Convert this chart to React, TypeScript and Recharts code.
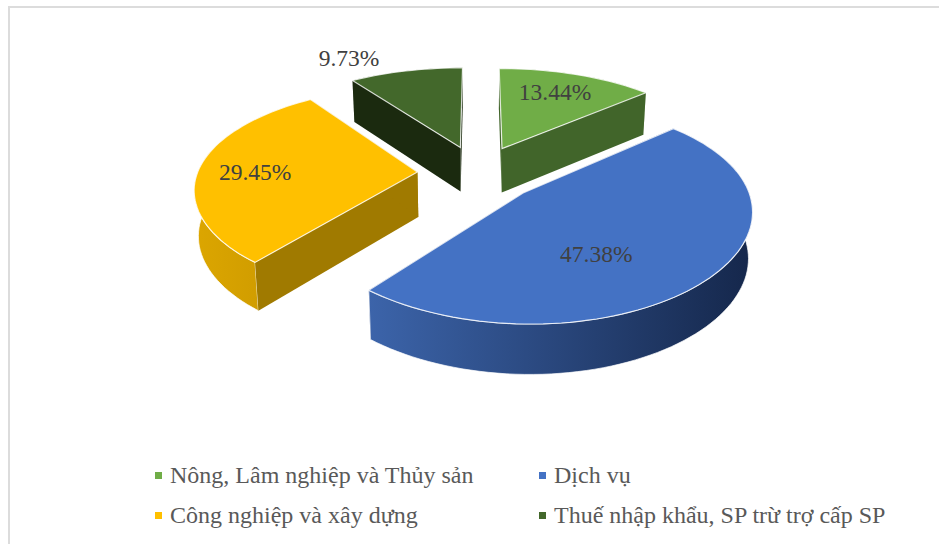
import { PieChart, Pie, Legend } from 'recharts';

const NAMES = [
  'Nông, Lâm nghiệp và Thủy sản',
  'Dịch vụ',
  'Công nghiệp và xây dựng',
  'Thuế nhập khẩu, SP trừ trợ cấp SP',
];
const SHARES = [13.44, 47.38, 29.45, 9.73];

const TOP_COLORS = ['#70ad47', '#4472c4', '#ffc000', '#43682b'];
const CUT_COLORS = ['#41652a', '#2a4478', '#a07a00', '#1b2a0f'];
const WALL_LEFT = ['#41652a', '#3c64aa', '#dca600', '#1b2a0f'];
const WALL_RIGHT = ['#41652a', '#15274b', '#c89600', '#1b2a0f'];

// hand-tuned nudges from the middle of each slice top
const LABEL_NUDGE = [
  [6, -10],
  [-34, 13],
  [-31, 2],
  [-77, -41],
];

const WIDTH = 939;
const HEIGHT = 544;
const CX = 478;
const CY = 173;
const RADIUS = 220;

// fake 3D: the pie plane is tilted and slightly in perspective
const TILT = 0.46;
const PERSPECTIVE_X = 0.14;
const PERSPECTIVE_Y = 0.17;
const EXPLODE = 0.276;
const DEPTH = 45;
const BOTTOM_SHRINK = 0.985;

const rad = (deg: number) => (deg * Math.PI) / 180;

// clockwise from the top, unit radius, shifted out along the slice's middle
function planePoint(r: number, theta: number, mid: number) {
  const X = r * Math.sin(rad(theta)) + EXPLODE * Math.sin(rad(mid));
  const Y = r * Math.cos(rad(theta)) + EXPLODE * Math.cos(rad(mid));
  const s = 1 / (1 + PERSPECTIVE_Y * Y);
  return { x: X / (1 + PERSPECTIVE_X * Y), y: -Y * TILT * s, s };
}

function top(cx: number, cy: number, R: number, r: number, theta: number, mid: number) {
  const p = planePoint(r, theta, mid);
  return { x: cx + p.x * R, y: cy + p.y * R, s: p.s };
}

function bottom(p: { x: number; y: number; s: number }, cx: number) {
  return { x: cx + (p.x - cx) * BOTTOM_SHRINK, y: p.y + DEPTH * Math.sqrt(p.s) };
}

const toPath = (pts: { x: number; y: number }[]) =>
  'M' + pts.map((p) => `${p.x.toFixed(1)},${p.y.toFixed(1)}`).join('L') + 'Z';

function Slice3D(props: any) {
  const { cx, cy, outerRadius, startAngle, endAngle, fill, name } = props;
  const i = NAMES.indexOf(name);
  const from = 90 - startAngle;
  const to = 90 - endAngle;
  const mid = (from + to) / 2;

  const arc = [];
  const steps = Math.max(8, Math.ceil((to - from) / 2));
  for (let k = 0; k <= steps; k++) {
    arc.push(top(cx, cy, outerRadius, 1, from + ((to - from) * k) / steps, mid));
  }
  const apex = top(cx, cy, outerRadius, 0, from, mid);
  const apexLow = bottom(apex, cx);
  const arcLow = arc.map((p) => bottom(p, cx));
  const first = arc[0];
  const last = arc[arc.length - 1];
  const xs = arc.map((p) => p.x);
  const gradId = `wall-${i}`;

  const cuts = (
    <>
      <path d={toPath([apex, first, bottom(first, cx), apexLow])} fill={CUT_COLORS[i]} />
      <path d={toPath([apex, last, bottom(last, cx), apexLow])} fill={CUT_COLORS[i]} />
    </>
  );
  // slices on the near side show their rim in front of the cut faces
  const nearSide = Math.cos(rad(mid)) < 0;

  return (
    <g>
      <defs>
        <linearGradient
          id={gradId}
          gradientUnits="userSpaceOnUse"
          x1={Math.min(...xs)}
          x2={Math.max(...xs)}
          y1={0}
          y2={0}
        >
          <stop offset="0%" stopColor={WALL_LEFT[i]} />
          <stop offset="100%" stopColor={WALL_RIGHT[i]} />
        </linearGradient>
      </defs>
      {nearSide && cuts}
      <path
        d={toPath([...arc, ...arcLow.slice().reverse()])}
        fill={`url(#${gradId})`}
        stroke="#fff"
        strokeOpacity={0.7}
        strokeWidth={1}
      />
      {!nearSide && cuts}
      <path d={toPath([apex, ...arc])} fill={fill} stroke="#fff" strokeOpacity={0.8} strokeWidth={1.2} />
    </g>
  );
}

function SliceLabel(props: any) {
  const { cx, cy, outerRadius, midAngle, index, value } = props;
  const mid = 90 - midAngle;
  const p = top(cx, cy, outerRadius, 0.6, mid, mid);
  const [dx, dy] = LABEL_NUDGE[index];
  return (
    <text
      x={p.x + dx}
      y={p.y + dy}
      textAnchor="middle"
      dominantBaseline="central"
      fontFamily="'Liberation Serif', serif"
      fontSize={23.5}
      fill="#404040"
    >
      {`${value}%`}
    </text>
  );
}

function PieLegend({ payload }: any) {
  return (
    <div
      style={{
        display: 'grid',
        gridTemplateColumns: '384px 384px',
        fontFamily: "'Liberation Serif', serif",
        fontSize: 24,
        color: '#595959',
      }}
    >
      {(payload ?? []).map((entry: any) => (
        <div key={entry.value} style={{ display: 'flex', alignItems: 'center', height: 39.5 }}>
          <span
            style={{ width: 7, height: 7, background: entry.color, marginRight: 8, flex: 'none' }}
          />
          {entry.value}
        </div>
      ))}
    </div>
  );
}

const rows = NAMES.map((name, i) => ({ name, value: SHARES[i], fill: TOP_COLORS[i] }));

export default function App() {
  return (
    <div
      style={{
        position: 'absolute',
        left: 0,
        top: 0,
        width: WIDTH,
        height: HEIGHT,
        overflow: 'hidden',
        background: '#fff',
      }}
    >
      <div
        style={{
          position: 'absolute',
          left: 8,
          top: 6,
          width: WIDTH,
          height: HEIGHT,
          border: '2px solid #dcdcdc',
        }}
      />
      <PieChart width={WIDTH} height={HEIGHT} margin={{ top: 0, right: 0, bottom: 0, left: 0 }}>
        <Pie
          data={rows}
          dataKey="value"
          nameKey="name"
          cx={CX}
          cy={CY}
          outerRadius={RADIUS}
          startAngle={90}
          endAngle={-270}
          stroke="none"
          shape={Slice3D}
          label={SliceLabel}
          labelLine={false}
          isAnimationActive={false}
        />
        <Legend
          content={PieLegend}
          itemSorter={null}
          wrapperStyle={{ left: 155, top: 456, width: 770, bottom: 'auto' }}
        />
      </PieChart>
    </div>
  );
}
